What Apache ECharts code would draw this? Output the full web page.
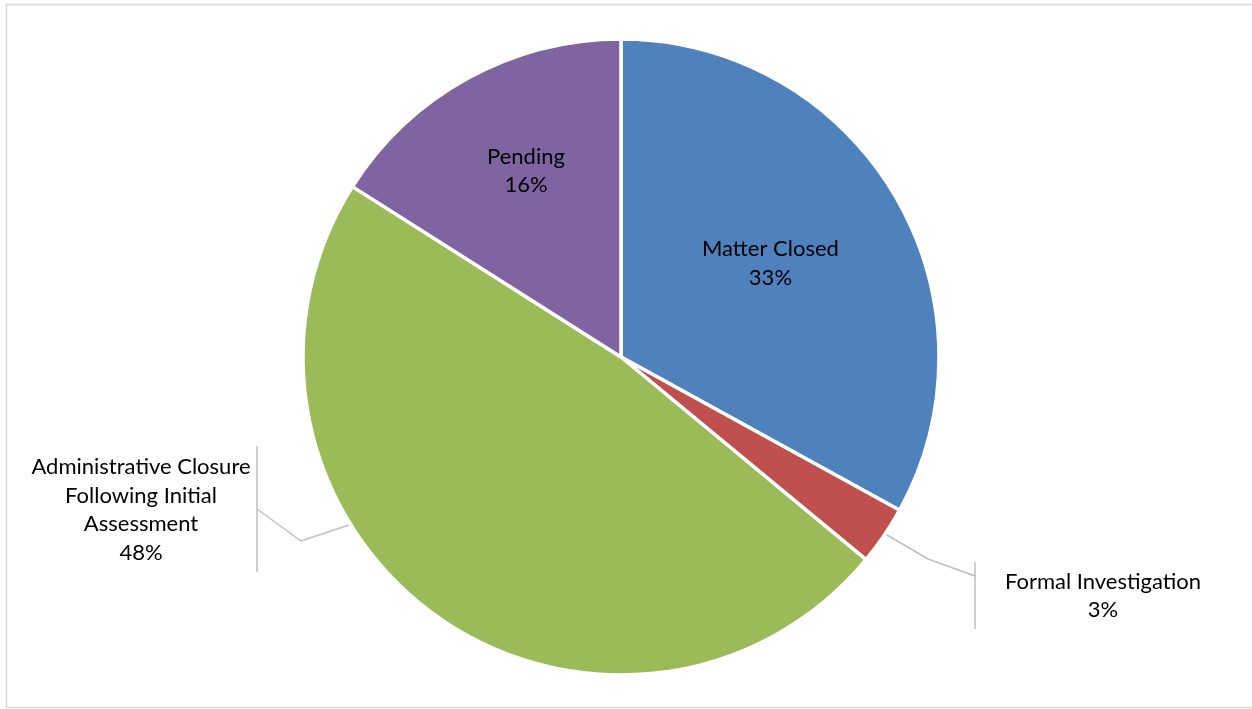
<!DOCTYPE html>
<html>
<head>
<meta charset="utf-8">
<script src="https://cdn.jsdelivr.net/npm/echarts@6/dist/echarts.min.js"></script>
<style>
  html, body { margin: 0; padding: 0; background: #fff; }
  #chart { width: 1252px; height: 709px; }
</style>
</head>
<body>
<div id="chart"></div>
<script>
// Case outcomes, share of total (%)
const categories = [
  'Matter Closed',
  'Formal Investigation',
  'Administrative Closure\nFollowing Initial\nAssessment',
  'Pending'
];
const shares = [33, 3, 48, 16];
const colors = ['#4f81bd', '#c0504d', '#9bbb59', '#8064a2'];

const FONT = 'Lato, "Open Sans", sans-serif';
const CX = 621, CY = 357, R = 318;

const chart = echarts.init(document.getElementById('chart'), null, { renderer: 'canvas' });

// Label placement: inside labels get a small nudge, outside labels sit beside a callout bar
const insideOffsets = { 0: [10, -11], 3: [-17, -44] };
const outsideLayout = {
  1: { x: 1103, y: 596, line: [[882, 532], [928, 559], [975, 576]] },
  2: { x: 141, y: 510, line: [[349, 525], [301, 541], [257, 509]] }
};

const data = categories.map((name, i) => {
  const item = { name, value: shares[i], itemStyle: { color: colors[i] } };
  if (insideOffsets[i]) {
    item.label = { position: 'inside', offset: insideOffsets[i] };
    item.labelLine = { show: false };
  } else {
    item.label = { position: 'outside' };
    item.labelLine = { show: true };
  }
  return item;
});

chart.setOption({
  backgroundColor: '#ffffff',
  animation: false,
  graphic: [
    {
      type: 'rect', silent: true,
      shape: { x: 6.5, y: 4.5, width: 1260, height: 703 },
      style: { fill: 'none', stroke: '#d9d9d9', lineWidth: 1.5 }
    },
    {
      type: 'line', silent: true,
      shape: { x1: 975, y1: 562, x2: 975, y2: 629 },
      style: { stroke: '#bfbfbf', lineWidth: 1.5 }
    },
    {
      type: 'line', silent: true,
      shape: { x1: 257, y1: 446, x2: 257, y2: 572 },
      style: { stroke: '#bfbfbf', lineWidth: 1.5 }
    }
  ],
  series: [{
    type: 'pie',
    center: [CX, CY],
    radius: [0, R],
    startAngle: 90,
    clockwise: true,
    avoidLabelOverlap: false,
    itemStyle: { borderColor: '#ffffff', borderWidth: 3.5 },
    label: {
      show: true,
      formatter: p => p.name + '\n' + p.value + '%',
      color: '#000000',
      fontFamily: FONT,
      fontSize: 22,
      lineHeight: 28.5,
      align: 'center'
    },
    labelLine: {
      lineStyle: { color: '#bfbfbf', width: 1.5 }
    },
    labelLayout: params => {
      const o = outsideLayout[params.dataIndex];
      if (!o) return {};
      return {
        x: o.x, y: o.y,
        align: 'center', verticalAlign: 'middle',
        labelLinePoints: o.line
      };
    },
    emphasis: { disabled: true },
    data
  }]
});
</script>
</body>
</html>
